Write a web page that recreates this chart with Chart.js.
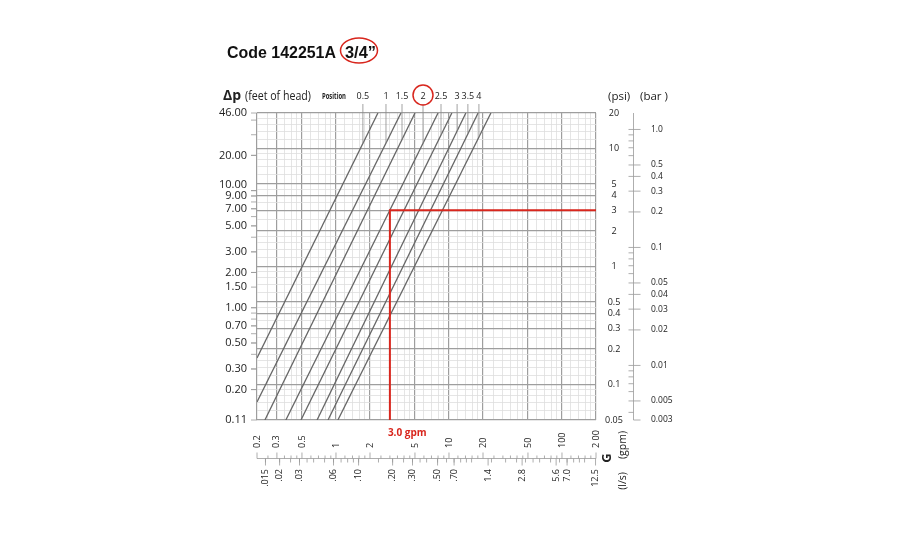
<!DOCTYPE html>
<html>
<head>
<meta charset="utf-8">
<script src="https://cdn.jsdelivr.net/npm/chart.js@4.4.1/dist/chart.umd.min.js"></script>
<style>
  html, body { margin: 0; padding: 0; background: #fff; }
  #wrap { width: 900px; height: 550px; }
</style>
</head>
<body>
<div id="wrap"><canvas id="valveChart" width="900" height="550"></canvas></div>
<script>
// Flow axis (gpm) and its tick labels
const gpmMin = 0.2;
const gpmMax = 200;
const gpmTicks = [0.2, 0.3, 0.5, 1, 2, 5, 10, 20, 50, 100, 200];
const gpmTickLabels = ["0.2", "0.3", "0.5", "1", "2", "5", "10", "20", "50", "100", "2 00"];

// Second flow scale (l/s)
const lsTickLabels = [".015", ".02", ".03", ".06", ".10", ".20", ".30", ".50", ".70", "1.4", "2.8", "5.6", "7.0", "12.5"];

// Pressure drop axes
const psiMin = 0.05;
const psiMax = 20;
const psiTicks = [20, 10, 5, 4, 3, 2, 1, 0.5, 0.4, 0.3, 0.2, 0.1, 0.05];
const ftMin = 0.11;
const ftMax = 46;
const ftTicks = [46, 20, 10, 9, 7, 5, 3, 2, 1.5, 1, 0.7, 0.5, 0.3, 0.2, 0.11];
const barTicks = [1.0, 0.5, 0.4, 0.3, 0.2, 0.1, 0.05, 0.04, 0.03, 0.02, 0.01, 0.005, 0.003];
const barTickLabels = ["1.0", "0.5", "0.4", "0.3", "0.2", "0.1", "0.05", "0.04", "0.03", "0.02", "0.01", "0.005", "0.003"];

// Valve positions: each curve read as start / end point (gpm, psi)
const positions = ["0.5", "1", "1.5", "2", "2.5", "3", "3.5", "4"];
const positionLabelG = [1.73, 2.77, 3.84, 5.89, 8.5, 11.8, 14.7, 18.4];
const curveStartG = [0.2, 0.2, 0.235, 0.36, 0.49, 0.68, 0.85, 1.04];
const curveStartPsi = [0.168, 0.0712, 0.05, 0.05, 0.05, 0.05, 0.05, 0.05];
const curveEndG = [2.35, 3.76, 5.0, 8.0, 10.6, 14.1, 18.1, 23.5];
const curveEndPsi = [20, 20, 20, 20, 20, 20, 20, 20];

// Worked example (red)
const exampleG = 3.0;
const examplePsi = 3;
const examplePosition = "2";

const psiToBar = 0.0689476;
const gpmToLs = 0.0630902;

const minorSteps = [1, 1.2, 1.4, 1.6, 1.8, 2, 2.5, 3, 3.5, 4, 4.5, 5, 6, 7, 8, 9];
function logGrid(min, max, steps) {
  const out = [];
  for (let d = -4; d <= 3; d++) {
    steps.forEach(s => {
      const v = s * Math.pow(10, d);
      if (v >= min * 0.9999 && v <= max * 1.0001) out.push(v);
    });
  }
  return out;
}
const near = (v, list) => list.some(m => Math.abs(m - v) / m < 1e-6);

const gpmGrid = logGrid(gpmMin, gpmMax, minorSteps);
const psiGrid = logGrid(psiMin, psiMax, minorSteps);

const RED = "#d8261d";
const TXT = "#222";

const curveSets = positions.map((p, i) => ({
  label: "Position " + p,
  data: [
    { x: curveStartG[i], y: curveStartPsi[i] },
    { x: curveEndG[i], y: curveEndPsi[i] }
  ],
  borderColor: "#666",
  borderWidth: 1.3,
  pointRadius: 0,
  showLine: true
}));

const exampleSet = {
  label: "3.0 gpm",
  data: [
    { x: gpmMax, y: examplePsi },
    { x: exampleG, y: examplePsi },
    { x: exampleG, y: psiMin }
  ],
  borderColor: RED,
  borderWidth: 2,
  pointRadius: 0,
  showLine: true
};

function text(ctx, str, x, y, font, color, align, base, maxW) {
  ctx.font = font;
  ctx.fillStyle = color;
  ctx.textAlign = align || "left";
  ctx.textBaseline = base || "alphabetic";
  if (maxW) ctx.fillText(str, x, y, maxW);
  else ctx.fillText(str, x, y);
}

function vtext(ctx, str, x, y, font, color, align) {
  ctx.save();
  ctx.translate(x, y);
  ctx.rotate(-Math.PI / 2);
  text(ctx, str, 0, 0, font, color, align, "middle");
  ctx.restore();
}

function line(ctx, x1, y1, x2, y2, color, w) {
  ctx.beginPath();
  ctx.moveTo(x1, y1);
  ctx.lineTo(x2, y2);
  ctx.strokeStyle = color;
  ctx.lineWidth = w;
  ctx.stroke();
}

const decor = {
  id: "decor",
  afterDraw(chart) {
    const { ctx, chartArea: a, scales } = chart;
    const xs = scales.x, ys = scales.y, ft = scales.ft, bar = scales.bar, ls = scales.ls;
    const F = "\"Open Sans\", \"Liberation Sans\", sans-serif";
    ctx.save();

    // title
    text(ctx, "Code 142251A", 227, 58, "bold 17px \"Liberation Sans\", Arial", "#111", "left", "alphabetic", 109);
    text(ctx, "3/4\u201D", 345, 58, "bold 17px \"Liberation Sans\", Arial", "#111", "left", "alphabetic", 31);
    ctx.beginPath();
    ctx.ellipse(359, 50.5, 18.5, 12.5, 0, 0, Math.PI * 2);
    ctx.strokeStyle = RED;
    ctx.lineWidth = 1.5;
    ctx.stroke();

    // header row
    text(ctx, "\u0394p", 223, 100, "bold 14px " + F, TXT);
    text(ctx, "(feet of head)", 245, 100, "12px " + F, TXT, "left", "alphabetic", 66);
    text(ctx, "Position", 322, 99, "bold 8px " + F, TXT, "left", "alphabetic", 24);
    text(ctx, "(psi)", 608, 100, "11.5px " + F, TXT);
    text(ctx, "(bar )", 640, 100, "11.5px " + F, TXT);

    // position labels and leader lines
    positions.forEach((p, i) => {
      const px = xs.getPixelForValue(positionLabelG[i]);
      text(ctx, p, px, 99, "9px " + F, TXT, "center");
      const x1 = xs.getPixelForValue(curveStartG[i]), y1 = ys.getPixelForValue(curveStartPsi[i]);
      const x2 = xs.getPixelForValue(curveEndG[i]), y2 = ys.getPixelForValue(curveEndPsi[i]);
      const yHit = y1 + (px - x1) * (y2 - y1) / (x2 - x1);
      line(ctx, px, 104, px, yHit, "#8a8a8a", 0.8);
      if (p === examplePosition) {
        ctx.beginPath();
        ctx.arc(px, 95, 10, 0, Math.PI * 2);
        ctx.strokeStyle = RED;
        ctx.lineWidth = 1.5;
        ctx.stroke();
      }
    });

    // left axis (feet of head)
    logGrid(ftMin, ftMax, [1, 2, 3, 4, 5, 6, 7, 8, 9]).concat(ftTicks).forEach(v => {
      const py = ft.getPixelForValue(v);
      line(ctx, a.left - 6, py, a.left, py, "#999", 0.8);
    });
    // labels from the bottom up, nudged apart where they would collide
    let prevY = Infinity;
    ftTicks.slice().reverse().forEach(v => {
      let py = ft.getPixelForValue(v);
      if (prevY - py < 11) py = prevY - 11;
      prevY = py;
      text(ctx, v.toFixed(2), a.left - 10, py, "11px " + F, TXT, "right", "middle");
    });

    // psi labels
    psiTicks.forEach(v => {
      text(ctx, String(v), 614, ys.getPixelForValue(v), "9px " + F, TXT, "center", "middle");
    });

    // bar axis
    const bx = 633.5;
    line(ctx, bx, a.top, bx, a.bottom, "#999", 0.8);
    logGrid(bar.min, bar.max, [1, 2, 3, 4, 5, 6, 7, 8, 9]).forEach(v => {
      const py = bar.getPixelForValue(v);
      line(ctx, bx - 5, py, bx, py, "#999", 0.8);
    });
    barTicks.forEach((v, i) => {
      const py = bar.getPixelForValue(Math.max(v, bar.min));
      line(ctx, bx, py, bx + 7, py, "#999", 0.8);
      text(ctx, barTickLabels[i], 651, py, "8.5px " + F, TXT, "left", "middle");
    });

    // bottom axes
    const ay = 458.5;
    line(ctx, a.left, ay, a.right, ay, "#999", 0.8);
    gpmGrid.forEach(v => {
      const px = xs.getPixelForValue(v);
      const len = near(v, gpmTicks) ? 6 : 3;
      line(ctx, px, ay - len, px, ay, "#999", 0.8);
    });
    gpmTicks.forEach((v, i) => {
      vtext(ctx, gpmTickLabels[i], xs.getPixelForValue(v), 448, "9px " + F, TXT, "left");
    });
    logGrid(ls.min, ls.max, [1, 1.5, 2, 2.5, 3, 3.5, 4, 5, 6, 7, 8, 9]).forEach(v => {
      const px = ls.getPixelForValue(v);
      line(ctx, px, ay, px, ay + 4, "#999", 0.8);
    });
    lsTickLabels.forEach(lbl => {
      const px = ls.getPixelForValue(parseFloat(lbl));
      line(ctx, px, ay, px, ay + 7, "#999", 0.8);
      vtext(ctx, lbl, px, 469, "9px " + F, TXT, "right");
    });
    vtext(ctx, "G", 607, 458, "bold 13px " + F, TXT, "center");
    vtext(ctx, "(gpm)", 623, 445, "10.5px " + F, TXT, "center");
    vtext(ctx, "(l/s)", 623, 481, "10.5px " + F, TXT, "center");

    // example label
    text(ctx, exampleG.toFixed(1) + " gpm", xs.getPixelForValue(exampleG) - 2, 436, "bold 10px " + F, RED);

    ctx.restore();
  }
};

const gridColor = list => c => near(c.tick.value, list) ? "#9e9e9e" : "#dedede";
const gridWidth = list => c => near(c.tick.value, list) ? 1.2 : 0.8;

new Chart(document.getElementById("valveChart"), {
  type: "scatter",
  data: { datasets: [exampleSet].concat(curveSets) },
  options: {
    responsive: false,
    animation: false,
    devicePixelRatio: 1,
    layout: { padding: { left: 257, right: 304, top: 113, bottom: 130 } },
    plugins: { legend: { display: false }, tooltip: { enabled: false } },
    scales: {
      x: {
        type: "logarithmic",
        position: "bottom",
        min: gpmMin,
        max: gpmMax,
        afterBuildTicks: s => { s.ticks = gpmGrid.map(v => ({ value: v })); },
        ticks: { display: false },
        grid: { drawTicks: false, color: gridColor(gpmTicks), lineWidth: gridWidth(gpmTicks) },
        border: { display: false }
      },
      y: {
        type: "logarithmic",
        position: "right",
        min: psiMin,
        max: psiMax,
        afterBuildTicks: s => { s.ticks = psiGrid.map(v => ({ value: v })); },
        ticks: { display: false },
        grid: { drawTicks: false, color: gridColor(psiTicks), lineWidth: gridWidth(psiTicks) },
        border: { display: false }
      },
      ft: { type: "logarithmic", position: "left", min: ftMin, max: ftMax, display: false },
      bar: { type: "logarithmic", position: "right", min: psiMin * psiToBar, max: psiMax * psiToBar, display: false },
      ls: { type: "logarithmic", position: "bottom", min: gpmMin * gpmToLs, max: gpmMax * gpmToLs, display: false }
    }
  },
  plugins: [decor]
});
</script>
</body>
</html>
